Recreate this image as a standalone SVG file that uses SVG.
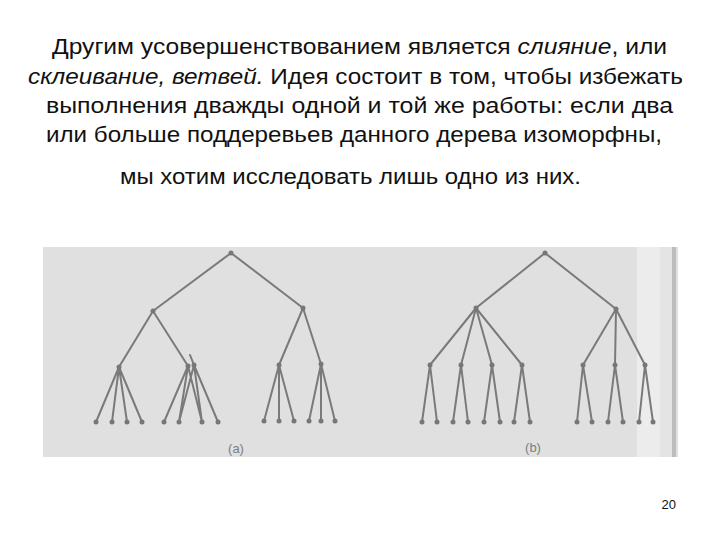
<svg xmlns="http://www.w3.org/2000/svg" width="720" height="540" viewBox="0 0 720 540">
<style>
.t{font-family:"Liberation Sans",Arial,sans-serif;font-size:22px;fill:#111}
.i{font-style:italic}
.e{stroke:#7a7a7a;stroke-width:2;fill:none;stroke-linecap:round}
.n{fill:#777}
.lb{font-family:"Liberation Sans",Arial,sans-serif;font-size:13px;fill:#7d7d7d;text-anchor:middle}
</style>
<rect width="720" height="540" fill="#fff"/>
<g id="text">
<text class="t" x="52" y="54" textLength="615" lengthAdjust="spacingAndGlyphs">Другим усовершенствованием является <tspan class="i">слияние</tspan>, или</text>
<text class="t" x="28" y="84" textLength="655" lengthAdjust="spacingAndGlyphs"><tspan class="i">склеивание, ветвей.</tspan> Идея состоит в том, чтобы избежать</text>
<text class="t" x="46" y="113" textLength="627" lengthAdjust="spacingAndGlyphs">выполнения дважды одной и той же работы: если два</text>
<text class="t" x="46" y="142" textLength="616" lengthAdjust="spacingAndGlyphs">или больше поддеревьев данного дерева изоморфны,</text>
<text class="t" x="120" y="184" textLength="461" lengthAdjust="spacingAndGlyphs">мы хотим исследовать лишь одно из них.</text>
<text x="676" y="509" font-family="Liberation Sans, Arial, sans-serif" font-size="13" fill="#111" text-anchor="end">20</text>
</g>
<g id="figure-bg">
<rect x="43" y="247" width="635" height="210" fill="#e0e0e0"/>
<rect x="637" y="247" width="23" height="210" fill="#ececec"/>
<rect x="660" y="247" width="12" height="210" fill="#e4e4e4"/>
<rect x="672" y="247" width="4" height="210" fill="#bdbdbd"/>
</g>
<g id="connectors">
<path class="e" d="M231 253 L153 311 M231 253 L303 308"/>
<path class="e" d="M153 311 L119 367 M153 311 L188 366"/>
<path class="e" d="M119 367 L96 422 M119 367 L112 422 M119 367 L127 422 M119 367 L142 422"/>
<path class="e" d="M188 366 L164 422 M188 366 L179 422 M188 366 L202 422 M194 365 L179 422 M194 365 L202 422 M194 365 L218 422 M194 365 L190 355"/>
<path class="e" d="M303 308 L279 365 M303 308 L321 364"/>
<path class="e" d="M279 365 L264 421 M279 365 L279 421 M279 365 L294 421"/>
<path class="e" d="M321 364 L309 421 M321 364 L321 421 M321 364 L335 421"/>
<path class="e" d="M545 253 L476 308 M545 253 L616 309"/>
<path class="e" d="M476 308 L430 365 M476 308 L461 365 M476 308 L492 365 M476 308 L522 365"/>
<path class="e" d="M430 365 L422 422 M430 365 L437 422 M461 365 L453 422 M461 365 L468 422 M492 365 L484 422 M492 365 L500 422 M522 365 L514 422 M522 365 L530 422"/>
<path class="e" d="M616 309 L583 365 M616 309 L615 365 M616 309 L645 365"/>
<path class="e" d="M583 365 L577 422 M583 365 L592 422 M615 365 L608 422 M615 365 L623 422 M645 365 L639 422 M645 365 L653 422"/>
</g>
<g id="tree-a">
<circle class="n" cx="231" cy="253" r="2.5"/>
<circle class="n" cx="153" cy="311" r="2.5"/>
<circle class="n" cx="303" cy="308" r="2.5"/>
<circle class="n" cx="119" cy="367" r="2.5"/>
<circle class="n" cx="188" cy="366" r="2.5"/>
<circle class="n" cx="194" cy="365" r="2.5"/>
<circle class="n" cx="279" cy="365" r="2.5"/>
<circle class="n" cx="321" cy="364" r="2.5"/>
<circle class="n" cx="96" cy="422" r="2.5"/><circle class="n" cx="112" cy="422" r="2.5"/><circle class="n" cx="127" cy="422" r="2.5"/><circle class="n" cx="142" cy="422" r="2.5"/>
<circle class="n" cx="164" cy="422" r="2.5"/><circle class="n" cx="179" cy="422" r="2.5"/><circle class="n" cx="202" cy="422" r="2.5"/><circle class="n" cx="218" cy="422" r="2.5"/>
<circle class="n" cx="264" cy="421" r="2.5"/><circle class="n" cx="279" cy="421" r="2.5"/><circle class="n" cx="294" cy="421" r="2.5"/>
<circle class="n" cx="309" cy="421" r="2.5"/><circle class="n" cx="321" cy="421" r="2.5"/><circle class="n" cx="335" cy="421" r="2.5"/>
<text class="lb" x="236" y="453">(a)</text>
</g>
<g id="tree-b">
<circle class="n" cx="545" cy="253" r="2.5"/>
<circle class="n" cx="476" cy="308" r="2.5"/>
<circle class="n" cx="616" cy="309" r="2.5"/>
<circle class="n" cx="430" cy="365" r="2.5"/><circle class="n" cx="461" cy="365" r="2.5"/><circle class="n" cx="492" cy="365" r="2.5"/><circle class="n" cx="522" cy="365" r="2.5"/>
<circle class="n" cx="583" cy="365" r="2.5"/><circle class="n" cx="615" cy="365" r="2.5"/><circle class="n" cx="645" cy="365" r="2.5"/>
<circle class="n" cx="422" cy="422" r="2.5"/><circle class="n" cx="437" cy="422" r="2.5"/><circle class="n" cx="453" cy="422" r="2.5"/><circle class="n" cx="468" cy="422" r="2.5"/>
<circle class="n" cx="484" cy="422" r="2.5"/><circle class="n" cx="500" cy="422" r="2.5"/><circle class="n" cx="514" cy="422" r="2.5"/><circle class="n" cx="530" cy="422" r="2.5"/>
<circle class="n" cx="577" cy="422" r="2.5"/><circle class="n" cx="592" cy="422" r="2.5"/><circle class="n" cx="608" cy="422" r="2.5"/><circle class="n" cx="623" cy="422" r="2.5"/>
<circle class="n" cx="639" cy="422" r="2.5"/><circle class="n" cx="653" cy="422" r="2.5"/>
<text class="lb" x="533" y="452">(b)</text>
</g>
</svg>
